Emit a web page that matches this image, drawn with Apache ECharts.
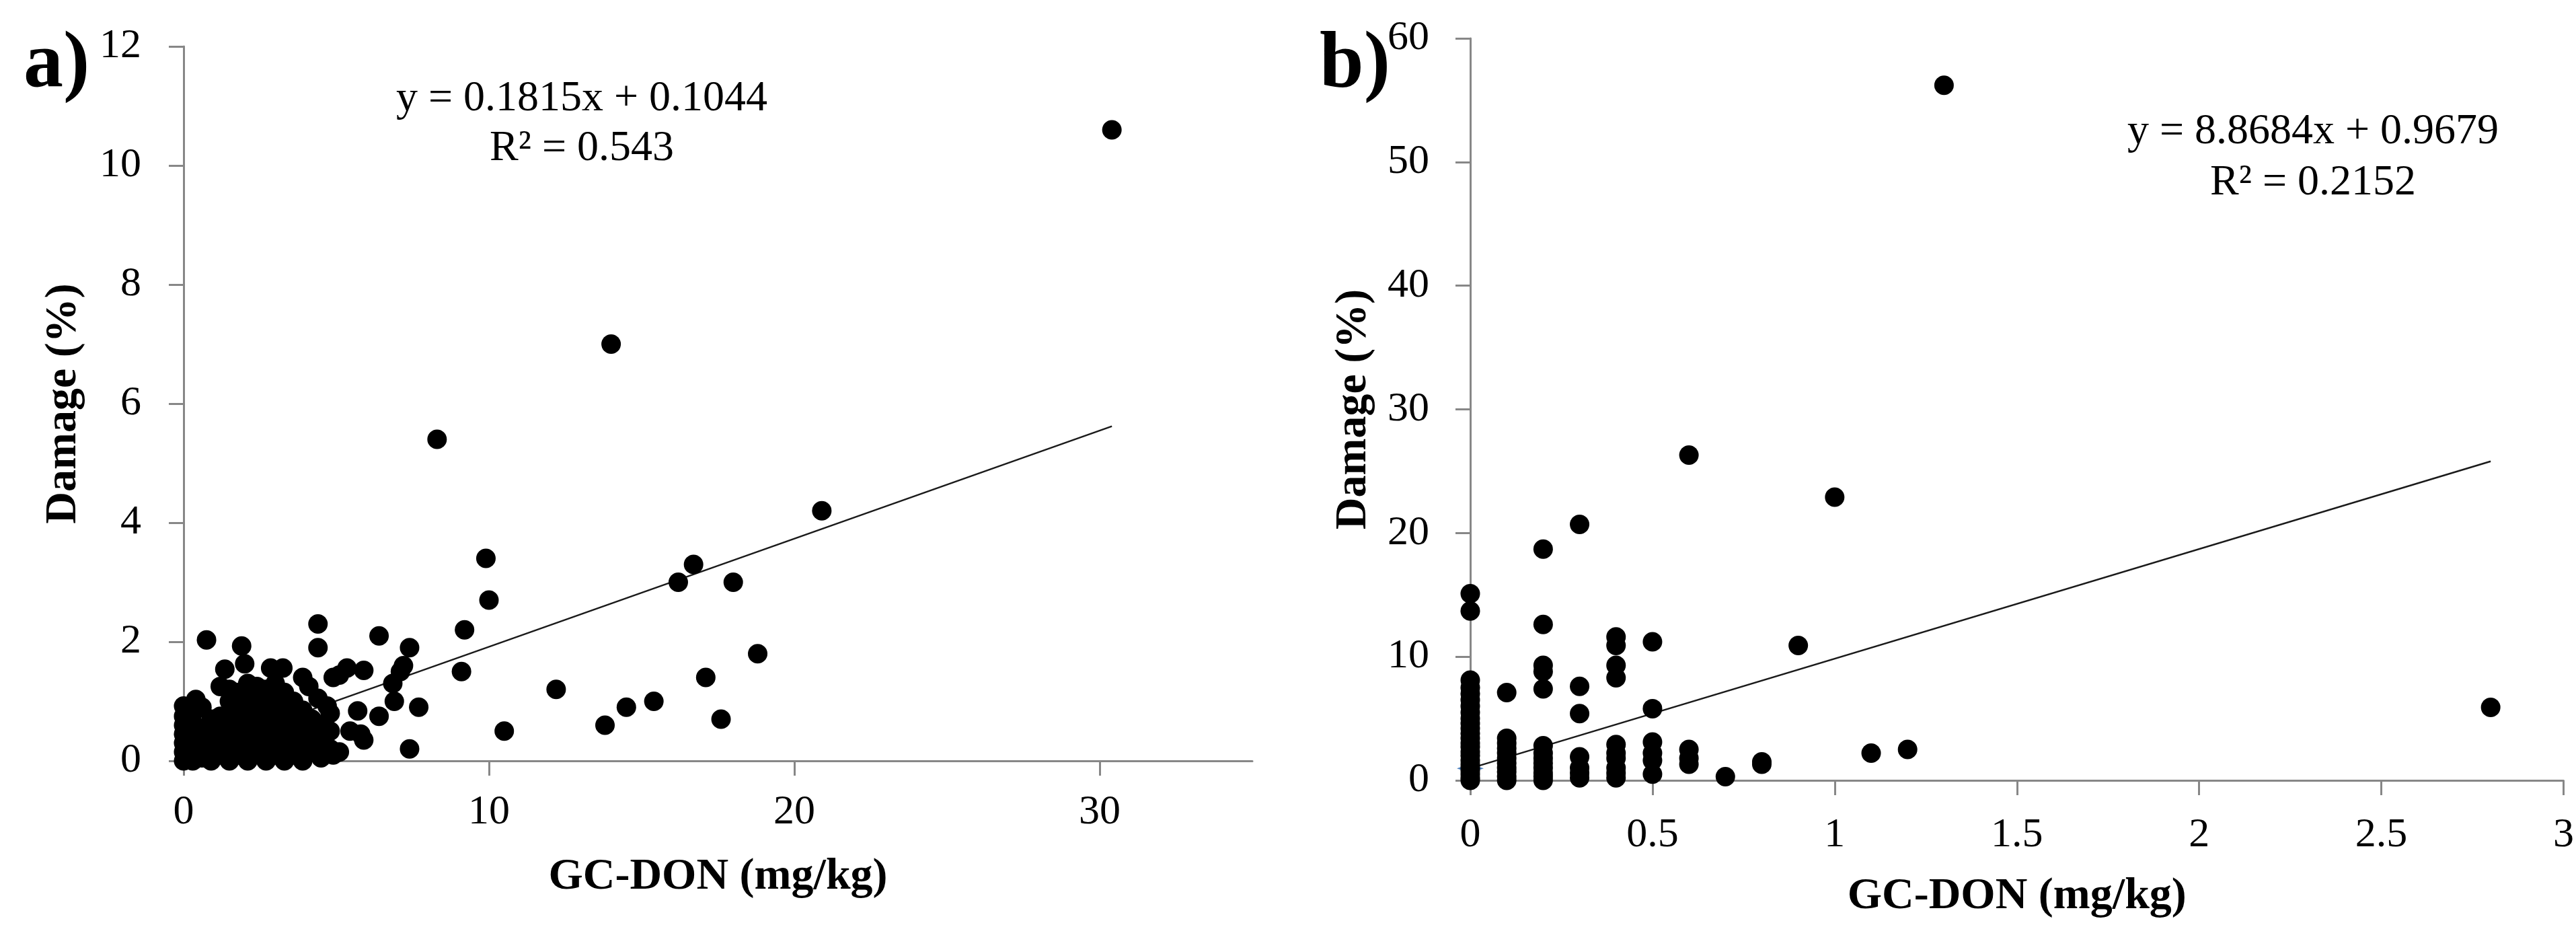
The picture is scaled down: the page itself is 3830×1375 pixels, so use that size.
<!DOCTYPE html>
<html>
<head>
<meta charset="utf-8">
<script src="https://cdn.jsdelivr.net/npm/echarts@6/dist/echarts.min.js"></script>
<style>html,body{margin:0;padding:0;background:#fff}#c{width:3830px;height:1375px}</style>
</head>
<body>
<div id="c"></div>
<script>
// ---- data ----
const xTicksA = [0, 10, 20, 30];
const yTicksA = [0, 2, 4, 6, 8, 10, 12];
const xTicksB = [0, 0.5, 1, 1.5, 2, 2.5, 3];
const yTicksB = [0, 10, 20, 30, 40, 50, 60];

const pointsA = [
  [30.4,10.6],[14.0,7.0],[8.3,5.4],[20.9,4.2],[9.9,3.4],[16.7,3.3],[16.2,3.0],[18.0,3.0],[10.0,2.7],[9.2,2.2],
  [6.4,2.1],[18.8,1.8],[9.1,1.5],[17.1,1.4],[12.2,1.2],[15.4,1.0],[14.5,0.9],[13.8,0.6],[17.6,0.7],[10.5,0.5],
  [7.7,0.9],[7.4,0.2],[7.4,1.9],[7.2,1.6],[7.1,1.5],[6.85,1.3],[6.9,1.0],[6.4,0.75],[5.9,1.52],[5.35,1.56],
  [5.1,1.44],[4.9,1.4],[4.4,2.3],[4.4,1.9],[4.9,0.1],[5.9,0.35],[5.7,0.84],[5.45,0.5],[5.8,0.45],
  [0.75,2.03],[1.9,1.93],[2.0,1.63],[1.35,1.54],[2.85,1.56],[3.25,1.56],[3.9,1.4],[4.1,1.25],[4.4,1.05],[4.7,0.92],
  [0,0.92],[0.4,1.03],[1.2,1.25],
  [0,0],[0,0.15],[0,0.3],[0,0.45],[0,0.6],[0,0.75],
  [0.3,0],[0.3,0.2],[0.3,0.4],[0.3,0.6],[0.3,0.8],
  [0.6,0.05],[0.6,0.3],[0.6,0.55],[0.6,0.9],
  [0.9,0],[0.9,0.2],[0.9,0.45],[0.9,0.7],
  [1.2,0.1],[1.2,0.35],[1.2,0.6],[1.2,0.75],
  [1.5,0],[1.5,0.25],[1.5,0.5],[1.5,0.7],[1.5,1.0],[1.5,1.2],
  [1.8,0.1],[1.8,0.4],[1.8,0.65],[1.8,0.9],[1.8,1.15],
  [2.1,0],[2.1,0.3],[2.1,0.55],[2.1,0.85],[2.1,1.1],[2.1,1.3],
  [2.4,0.15],[2.4,0.45],[2.4,0.7],[2.4,1.0],[2.4,1.25],
  [2.7,0],[2.7,0.3],[2.7,0.6],[2.7,0.9],[2.7,1.2],
  [3.0,0.1],[3.0,0.4],[3.0,0.7],[3.0,1.0],[3.0,1.3],
  [3.3,0],[3.3,0.25],[3.3,0.55],[3.3,0.85],[3.3,1.15],
  [3.6,0.1],[3.6,0.4],[3.6,0.7],[3.6,1.0],
  [3.9,0],[3.9,0.3],[3.9,0.6],[3.9,0.85],
  [4.2,0.15],[4.2,0.45],[4.2,0.7],
  [4.5,0.05],[4.5,0.35],[4.5,0.6],
  [4.8,0.2],[4.8,0.5],[4.8,0.8],
  [5.1,0.15]
];

const pointsB = [
  [0,0],[0,0.2],[0,0.5],[0,0.8],[0,1.0],[0,1.3],[0,1.6],[0,2.0],[0,2.3],[0,2.7],[0,3.0],[0,3.4],[0,3.8],[0,4.2],
  [0,4.6],[0,5.0],[0,5.5],[0,6.0],[0,6.5],[0,7.0],[0,7.5],[0,8.1],[0,13.7],[0,15.1],
  [0.1,0],[0.1,0.3],[0.1,0.7],[0.1,1.0],[0.1,1.4],[0.1,1.8],[0.1,2.2],[0.1,2.6],[0.1,3.0],[0.1,3.4],[0.1,7.1],
  [0.2,0],[0.2,0.3],[0.2,0.6],[0.2,1.0],[0.2,1.4],[0.2,1.8],[0.2,2.2],[0.2,2.8],[0.2,7.4],[0.2,8.8],[0.2,9.3],[0.2,12.6],[0.2,18.7],
  [0.3,0.2],[0.3,0.6],[0.3,1.0],[0.3,1.9],[0.3,5.4],[0.3,7.6],[0.3,20.7],
  [0.4,0.2],[0.4,0.6],[0.4,1.0],[0.4,1.8],[0.4,2.2],[0.4,2.9],[0.4,8.3],[0.4,9.3],[0.4,10.9],[0.4,11.6],
  [0.5,0.5],[0.5,1.6],[0.5,2.2],[0.5,3.1],[0.5,5.8],[0.5,11.2],
  [0.6,1.3],[0.6,1.8],[0.6,2.5],[0.6,26.3],
  [0.7,0.3],[0.8,1.3],[0.8,1.5],[0.9,10.9],[1.0,22.9],[1.1,2.2],[1.2,2.5],[1.3,56.2],[2.8,5.9]
];

const trendA = [[0, 0.10], [30.4, 5.62]];
const trendB = [[0, 0.97], [2.8, 25.8]];
const markerB = [[0, 0.97]];

const eqA = ['y = 0.1815x + 0.1044', 'R\u00B2 = 0.543'];
const eqB = ['y = 8.8684x + 0.9679', 'R\u00B2 = 0.2152'];
const panelLabels = ['a)', 'b)'];
const xTitle = 'GC-DON (mg/kg)';
const yTitle = 'Damage (%)';

// ---- chart ----
const FONT = '"Liberation Serif", "Times New Roman", serif';
const axisLineStyle = { color: '#878787', width: 3 };

function xAxisCfg(grid, min, max, interval, ticks, gap, margin) {
  return {
    gridIndex: grid, type: 'value', min: min, max: max, interval: interval,
    name: xTitle, nameLocation: 'middle', nameGap: gap,
    nameTextStyle: { fontFamily: FONT, fontSize: 66, fontWeight: 'bold', color: '#000' },
    axisLine: { show: true, onZero: false, lineStyle: axisLineStyle },
    axisTick: { show: true, inside: false, length: 22, lineStyle: axisLineStyle, customValues: ticks },
    axisLabel: { fontFamily: FONT, fontSize: 62, color: '#000', margin: margin, customValues: ticks },
    splitLine: { show: false }
  };
}
function yAxisCfg(grid, min, max, interval, ticks, gap, margin) {
  return {
    gridIndex: grid, type: 'value', min: min, max: max, interval: interval,
    name: yTitle, nameLocation: 'middle', nameGap: gap, nameRotate: 90,
    nameTextStyle: { fontFamily: FONT, fontSize: 66, fontWeight: 'bold', color: '#000' },
    axisLine: { show: true, onZero: false, lineStyle: axisLineStyle },
    axisTick: { show: true, inside: false, length: 22, lineStyle: axisLineStyle, customValues: ticks },
    axisLabel: { fontFamily: FONT, fontSize: 62, color: '#000', margin: margin, customValues: ticks },
    splitLine: { show: false }
  };
}

function txt(x, y, s, size, weight, align) {
  return {
    type: 'text', x: x, y: y, z: 100,
    style: { text: s, fill: '#000', font: weight + ' ' + size + 'px ' + FONT,
             align: align, verticalAlign: 'middle' }
  };
}

const dot = { color: '#000', opacity: 1, borderWidth: 0 };

const chart = echarts.init(document.getElementById('c'), null, { renderer: 'canvas' });
chart.setOption({
  backgroundColor: '#fff',
  animation: false,
  grid: [
    { left: 273, right: 3830 - 1862, top: 69, bottom: 1375 - 1131 },
    { left: 2186, right: 6, top: 57, bottom: 1375 - 1160 }
  ],
  xAxis: [
    xAxisCfg(0, 0, 35, 10, xTicksA, 140, 46),
    xAxisCfg(1, 0, 3, 0.5, xTicksB, 140, 51)
  ],
  yAxis: [
    yAxisCfg(0, 0, 12, 2, yTicksA, 145, 63),
    yAxisCfg(1, 0, 60, 10, yTicksB, 140, 61)
  ],
  series: [
    { type: 'line', xAxisIndex: 0, yAxisIndex: 0, data: trendA, symbol: 'none', z: 3,
      lineStyle: { color: '#1a1a1a', width: 2.5 } },
    { type: 'scatter', xAxisIndex: 0, yAxisIndex: 0, data: pointsA, symbol: 'circle', symbolSize: 29,
      clip: false, z: 4, itemStyle: dot, emphasis: { disabled: true } },
    { type: 'scatter', xAxisIndex: 1, yAxisIndex: 1, data: markerB, symbol: 'diamond', symbolSize: [40, 14],
      clip: false, z: 2, itemStyle: { color: '#4f81bd', opacity: 1 } },
    { type: 'line', xAxisIndex: 1, yAxisIndex: 1, data: trendB, symbol: 'none', z: 3,
      lineStyle: { color: '#1a1a1a', width: 2.5 } },
    { type: 'scatter', xAxisIndex: 1, yAxisIndex: 1, data: pointsB, symbol: 'circle', symbolSize: 29,
      clip: false, z: 4, itemStyle: dot, emphasis: { disabled: true } }
  ],
  graphic: [
    txt(35, 98, panelLabels[0], 118, 'bold', 'left'),
    txt(1962, 98, panelLabels[1], 118, 'bold', 'left'),
    txt(865, 147, eqA[0], 64, 'normal', 'center'),
    txt(865, 221, eqA[1], 64, 'normal', 'center'),
    txt(3439, 196, eqB[0], 64, 'normal', 'center'),
    txt(3439, 272, eqB[1], 64, 'normal', 'center')
  ]
});
</script>
</body>
</html>
